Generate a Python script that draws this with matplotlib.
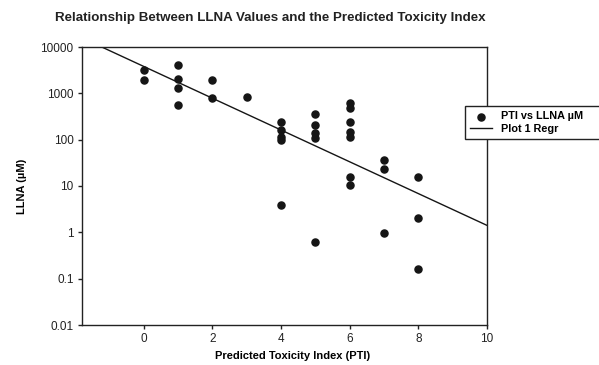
import numpy as np
import matplotlib.pyplot as plt
from matplotlib.patches import Rectangle

plt.rcParams['font.family'] = ['Liberation Sans', 'DejaVu Sans']

# PTI (x) and LLNA in uM (y)
pti = [0, 0,
       1, 1, 1, 1,
       2, 2,
       3,
       4, 4, 4, 4, 4,
       5, 5, 5, 5, 5,
       6, 6, 6, 6, 6, 6, 6,
       7, 7, 7,
       8, 8, 8]
llna = [3180, 1940,
        4080, 2040, 1300, 560,
        1940, 790,
        830,
        240, 160, 114, 98, 3.9,
        360, 208, 139, 108, 0.62,
        620, 480, 240, 150, 114, 15.6, 10.5,
        36, 23, 0.95,
        15.6, 2.0, 0.16]

# regression on log10 scale: log10(LLNA) = intercept + slope * PTI
reg_intercept = 3.58
reg_slope = -0.343

x_ticks = [0, 2, 4, 6, 8, 10]
y_ticks = [0.01, 0.1, 1, 10, 100, 1000, 10000]
y_ticklabels = ['0.01', '0.1', '1', '10', '100', '1000', '10000']

fig = plt.figure(figsize=(5.99, 3.65), dpi=100)
ax = fig.add_axes([82 / 599, 1 - 325 / 365, 405 / 599, 278 / 365])

ax.scatter(pti, llna, s=26, color='#151515', zorder=3, label='PTI vs LLNA \u00b5M')
xr = np.array([-1.8, 10])
ax.plot(xr, 10 ** (reg_intercept + reg_slope * xr), color='#151515', lw=1.0,
        label='Plot 1 Regr')

ax.set_yscale('log')
ax.set_xlim(-1.8, 10)
ax.set_ylim(0.01, 10000)
ax.set_xticks(x_ticks)
ax.set_yticks(y_ticks)
ax.set_yticklabels(y_ticklabels)
ax.minorticks_off()
ax.tick_params(axis='both', direction='out', length=3, width=1, labelsize=8.5,
               colors='#222222', pad=3)
for s in ax.spines.values():
    s.set_linewidth(1)
    s.set_color('#222222')

ax.set_xlabel('Predicted Toxicity Index (PTI)', fontsize=8, fontweight='bold', labelpad=5)
ax.xaxis.set_label_coords(0.52, -0.095)
ax.set_ylabel('LLNA (\u00b5M)', fontsize=8, fontweight='bold', labelpad=10)

fig.text(270 / 599, 1 - 18 / 365, 'Relationship Between LLNA Values and the Predicted Toxicity Index',
         ha='center', va='center', fontsize=9.6, fontweight='bold', color='#222222')

# legend box runs off the right edge of the figure, as in the original
fig.patches.append(Rectangle((465 / 599, 1 - 139 / 365), 150 / 599, 33 / 365,
                             transform=fig.transFigure, facecolor='white',
                             edgecolor='#222222', lw=1, zorder=5))
leg = fig.legend(loc='upper left', bbox_to_anchor=(465 / 599, 1 - 106 / 365),
                 prop={'weight': 'bold', 'size': 7.8}, frameon=False,
                 handlelength=2.0, handletextpad=0.8,
                 borderpad=0.5, labelspacing=0.25, borderaxespad=0)
leg.set_zorder(6)

fig.savefig('out.png', dpi=100)
